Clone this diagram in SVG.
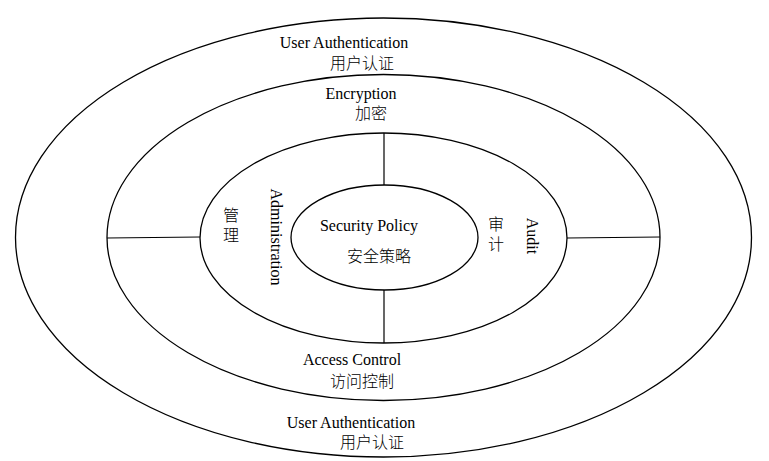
<svg xmlns="http://www.w3.org/2000/svg" width="769" height="461" viewBox="0 0 769 461">
<style>
.ring{fill:none;stroke:#000;stroke-width:1.3}
.en{font-family:"Liberation Serif","Times New Roman",serif;font-size:16px;fill:#000}
.zh{font-family:"Noto Sans CJK SC","Liberation Sans",sans-serif;font-size:16px;fill:#000;font-weight:300}
.vt{writing-mode:vertical-rl;text-orientation:upright;letter-spacing:4px}
.conn{stroke:#000;stroke-width:1.2;fill:none}
</style>
<rect width="769" height="461" fill="#fff"/>
<g id="user-auth">
<ellipse class="ring" cx="383.5" cy="237.5" rx="368" ry="219.5"/>
<text class="en" x="344" y="48" text-anchor="middle">User Authentication</text>
<text class="zh" x="362" y="69" text-anchor="middle">用户认证</text>
<text class="en" x="351" y="428" text-anchor="middle">User Authentication</text>
<text class="zh" x="372" y="448" text-anchor="middle">用户认证</text>
</g>
<g id="encryption-access">
<ellipse class="ring" cx="383.5" cy="237.5" rx="276.5" ry="163"/>
<text class="en" x="361" y="99" text-anchor="middle">Encryption</text>
<text class="zh" x="371" y="119" text-anchor="middle">加密</text>
<text class="en" x="352" y="365" text-anchor="middle">Access Control</text>
<text class="zh" x="362" y="387" text-anchor="middle">访问控制</text>
</g>
<g id="admin-audit">
<ellipse class="ring" cx="383.5" cy="238" rx="183.5" ry="105"/>
<text class="zh vt" x="231" y="207">管理</text>
<text class="en" transform="translate(271,237) rotate(90)" text-anchor="middle">Administration</text>
<text class="zh vt" x="496" y="216">审计</text>
<text class="en" transform="translate(527,236) rotate(90)" text-anchor="middle">Audit</text>
</g>
<g id="security-policy">
<ellipse class="ring" cx="384.5" cy="237.5" rx="93.5" ry="52.5"/>
<text class="en" x="369" y="231" text-anchor="middle">Security Policy</text>
<text class="zh" x="379" y="262" text-anchor="middle">安全策略</text>
</g>
<g id="connectors">
<line class="conn" x1="384" y1="133" x2="384" y2="185"/>
<line class="conn" x1="384" y1="290" x2="384" y2="343"/>
<line class="conn" x1="107" y1="238" x2="200" y2="237"/>
<line class="conn" x1="567" y1="238" x2="660" y2="237"/>
</g>
</svg>
